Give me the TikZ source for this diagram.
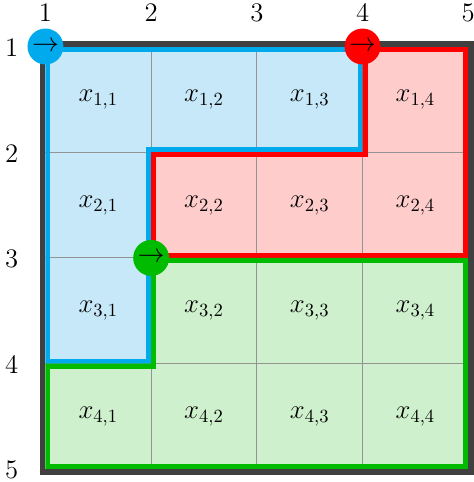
\documentclass[tikz,border=0pt]{standalone}
\usetikzlibrary{calc}
\definecolor{bluefill}{HTML}{C6E8F8}
\definecolor{bluestroke}{HTML}{00AAEC}
\definecolor{redfill}{HTML}{FFCCCC}
\definecolor{redstroke}{HTML}{FF0000}
\definecolor{greenfill}{HTML}{CEF0CC}
\definecolor{greenstroke}{HTML}{00BB00}
\definecolor{framegray}{HTML}{404040}
\tikzset{
  gridline/.style={draw=gray!85, line width=0.5pt},
  regionline/.style={line width=5.4pt, line join=miter},
  cellmark/.style={font=\Large},
  axislabel/.style={font=\Large, inner sep=0pt},
  startdot/.style={circle, minimum size=0.68cm, inner sep=0pt, font=\Large},
}
\begin{document}
\begin{tikzpicture}[x=2cm,y=-2cm]
\useasboundingbox (-0.430,-0.440) rectangle (4.054,4.120);
% fills
\fill[bluefill] (0,0) -- (3,0) -- (3,1) -- (1,1) -- (1,3) -- (0,3) -- cycle;
\fill[redfill] (3,0) -- (4,0) -- (4,2) -- (1,2) -- (1,1) -- (3,1) -- cycle;
\fill[greenfill] (1,2) -- (4,2) -- (4,4) -- (0,4) -- (0,3) -- (1,3) -- cycle;
% grid
\foreach \k in {1,2,3} {
  \draw[gridline] (\k,0) -- (\k,4);
  \draw[gridline] (0,\k) -- (4,\k);
}
% region outlines, inset
\begin{scope}
  \clip (0,0) -- (3,0) -- (3,1) -- (1,1) -- (1,3) -- (0,3) -- cycle;
  \draw[regionline, bluestroke] (0,0) -- (3,0) -- (3,1) -- (1,1) -- (1,3) -- (0,3) -- cycle;
\end{scope}
\begin{scope}
  \clip (3,0) -- (4,0) -- (4,2) -- (1,2) -- (1,1) -- (3,1) -- cycle;
  \draw[regionline, redstroke] (3,0) -- (4,0) -- (4,2) -- (1,2) -- (1,1) -- (3,1) -- cycle;
\end{scope}
\begin{scope}
  \clip (1,2) -- (4,2) -- (4,4) -- (0,4) -- (0,3) -- (1,3) -- cycle;
  \draw[regionline, greenstroke] (1,2) -- (4,2) -- (4,4) -- (0,4) -- (0,3) -- (1,3) -- cycle;
\end{scope}
% outer frame
\draw[framegray, line width=3pt] (-0.026,-0.026) rectangle (4.026,4.026);
% cell labels
\foreach \i in {1,...,4} {
  \foreach \j in {1,...,4} {
    \node[cellmark] (c\i\j) at (\j-0.5,\i-0.5) {$x_{\i,\j}$};
  }
}
% axis labels
\foreach \k in {1,...,5} {
  \node[axislabel] (t\k) at (\k-1,-0.32) {\k};
  \node[axislabel] (l\k) at (-0.32,\k-1+0.01) {\k};
}
% start markers
\node[startdot, fill=bluestroke] (sb) at (0,0) {$\rightarrow$};
\node[startdot, fill=redstroke] (sr) at (3,0) {$\rightarrow$};
\node[startdot, fill=greenstroke] (sg) at (1,2) {$\rightarrow$};
\end{tikzpicture}
\end{document}
